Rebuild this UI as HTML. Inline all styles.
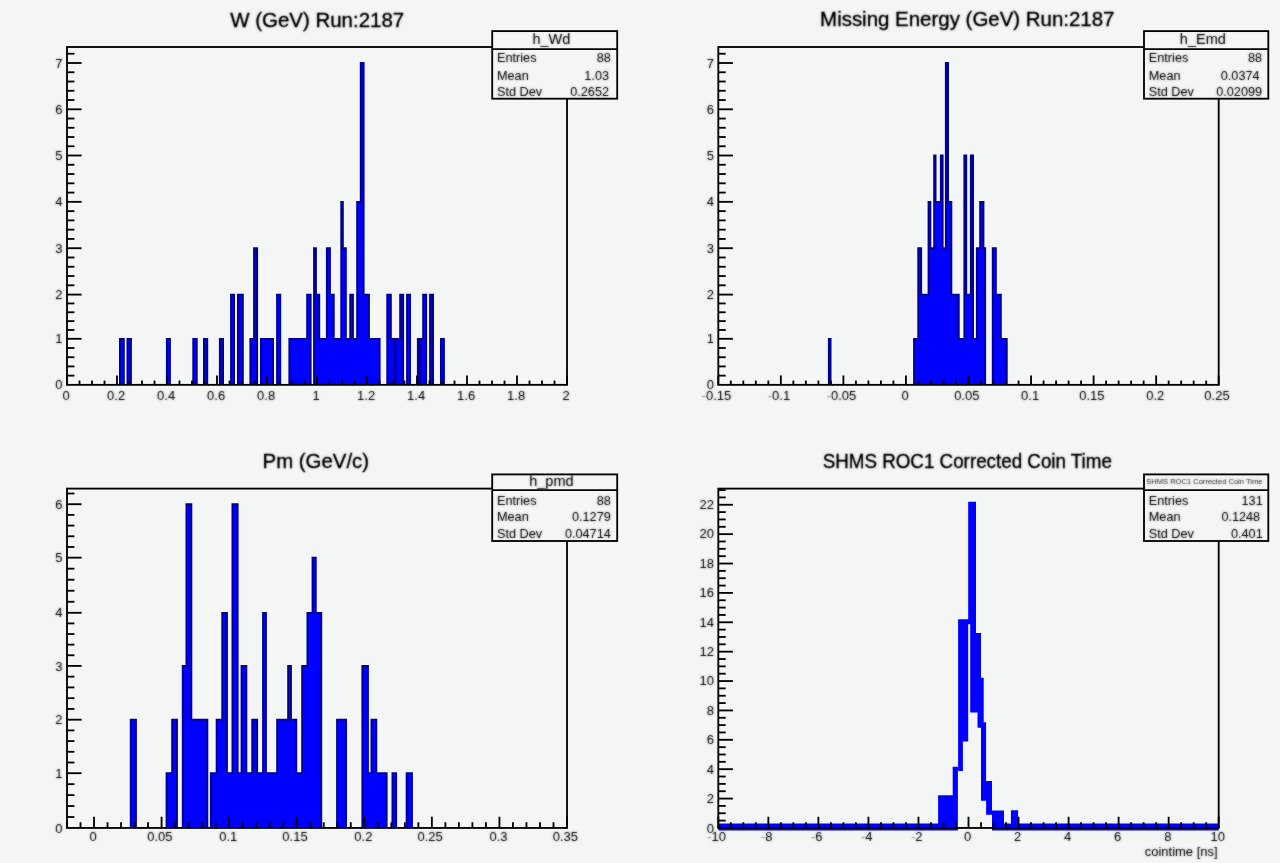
<!DOCTYPE html>
<html lang="en">
<head>
<meta charset="utf-8">
<title>ROOT canvas</title>
<style>
html,body{margin:0;padding:0;background:#f4f6f6;}
body{width:1280px;height:863px;overflow:hidden;}
svg{display:block;font-family:"Liberation Sans", Arial, Helvetica, sans-serif;}
</style>
</head>
<body>
<svg width="1280" height="863" viewBox="0 0 1280 863">
<rect x="0" y="0" width="1280" height="863" fill="#f4f6f6"/>
<defs><filter id="tb" x="0" y="0" width="1280" height="863" filterUnits="userSpaceOnUse"><feGaussianBlur stdDeviation="0.8" result="b"/><feComposite in="SourceGraphic" in2="b" operator="arithmetic" k1="0" k2="0.5" k3="0.6" k4="0"/></filter>
</defs>
<g>
<g id="p1">
<path d="M119 337.88H124.8V384.85H119ZM126.5 337.88H131.9V384.85H126.5ZM165.9 337.88H170.9V384.85H165.9ZM192.3 337.88H197.7V384.85H192.3ZM203 337.88H208.2V384.85H203ZM218.9 337.88H224V384.85H218.9ZM230.1 293.68H235V384.85H230.1ZM237 293.68H243.8V384.85H237ZM249.4 337.88H253.1V384.85H249.4ZM253.1 247.28H258.1V384.85H253.1ZM260 337.88H274V384.85H260ZM276.1 293.68H281.2V384.85H276.1ZM288.4 337.88H306.2V384.85H288.4ZM306.2 293.68H311.6V384.85H306.2ZM313.1 247.28H316.9V384.85H313.1ZM316.9 293.68H320.2V384.85H316.9ZM320.2 337.88H325.9V384.85H320.2ZM325.9 247.28H330.9V384.85H325.9ZM330.9 293.68H334.7V384.85H330.9ZM334.7 337.88H340.3V384.85H334.7ZM340.3 200.93H343.8V384.85H340.3ZM343.8 247.28H346.8V384.85H343.8ZM346.8 337.88H349.3V384.85H346.8ZM349.3 293.68H353.9V384.85H349.3ZM353.9 337.88H356.2V384.85H353.9ZM356.2 200.93H359.8V384.85H356.2ZM359.8 62.08H364.6V384.85H359.8ZM364.6 293.68H369.9V384.85H364.6ZM369.9 337.88H380.6V384.85H369.9ZM386.3 293.68H391.8V384.85H386.3ZM391.8 337.88H399.2V384.85H391.8ZM399.2 293.68H404.1V384.85H399.2ZM406.1 293.68H411V384.85H406.1ZM416.9 337.88H422.2V384.85H416.9ZM422.2 293.68H427.1V384.85H422.2ZM429.1 293.68H434V384.85H429.1ZM440 337.88H444.9V384.85H440Z" fill="#00008c"/>
<path d="M120.84 339.72H122.96V384.85H120.84ZM128.34 339.72H130.06V384.85H128.34ZM167.74 339.72H169.06V384.85H167.74ZM194.14 339.72H195.86V384.85H194.14ZM204.84 339.72H206.36V384.85H204.84ZM220.74 339.72H222.16V384.85H220.74ZM231.94 295.52H233.16V384.85H231.94ZM238.84 295.52H241.96V384.85H238.84ZM251.24 339.72H253.1V384.85H251.24ZM254.94 249.12H256.26V384.85H254.94ZM253.1 339.72H254.94V384.85H253.1ZM261.84 339.72H272.16V384.85H261.84ZM277.94 295.52H279.36V384.85H277.94ZM290.24 339.72H306.2V384.85H290.24ZM308.04 295.52H309.76V384.85H308.04ZM306.2 339.72H308.04V384.85H306.2ZM314.94 249.12H315.06V384.85H314.94ZM315.06 295.52H316.9V384.85H315.06ZM316.9 295.52H318.36V384.85H316.9ZM318.36 339.72H320.2V384.85H318.36ZM320.2 339.72H325.9V384.85H320.2ZM327.74 249.12H329.06V384.85H327.74ZM325.9 339.72H327.74V384.85H325.9ZM329.06 295.52H330.9V384.85H329.06ZM330.9 295.52H332.86V384.85H330.9ZM332.86 339.72H334.7V384.85H332.86ZM334.7 339.72H340.3V384.85H334.7ZM340.3 339.72H342.14V384.85H340.3ZM341.96 249.12H343.8V384.85H341.96ZM343.8 249.12H344.96V384.85H343.8ZM344.96 339.72H346.8V384.85H344.96ZM346.8 339.72H349.3V384.85H346.8ZM351.14 295.52H352.06V384.85H351.14ZM349.3 339.72H351.14V384.85H349.3ZM352.06 339.72H353.9V384.85H352.06ZM353.9 339.72H356.2V384.85H353.9ZM358.04 202.77H359.8V384.85H358.04ZM356.2 339.72H358.04V384.85H356.2ZM361.64 63.92H362.76V384.85H361.64ZM359.8 202.77H361.64V384.85H359.8ZM362.76 295.52H364.6V384.85H362.76ZM364.6 295.52H368.06V384.85H364.6ZM368.06 339.72H369.9V384.85H368.06ZM369.9 339.72H378.76V384.85H369.9ZM388.14 295.52H389.96V384.85H388.14ZM389.96 339.72H391.8V384.85H389.96ZM391.8 339.72H399.2V384.85H391.8ZM401.04 295.52H402.26V384.85H401.04ZM399.2 339.72H401.04V384.85H399.2ZM407.94 295.52H409.16V384.85H407.94ZM418.74 339.72H422.2V384.85H418.74ZM424.04 295.52H425.26V384.85H424.04ZM422.2 339.72H424.04V384.85H422.2ZM430.94 295.52H432.16V384.85H430.94ZM441.84 339.72H443.06V384.85H441.84Z" fill="#0000ff"/>
<rect x="393.6" y="338.8" width="2.8" height="46" fill="#00008c"/>
<rect x="418.3" y="338.8" width="2.6" height="46" fill="#00008c"/>
<rect x="67" y="47" width="500" height="337.85" fill="none" stroke="#000" stroke-width="1.84"/>
<line x1="67" y1="384.85" x2="67" y2="375.45" stroke="#000" stroke-width="1.84"/>
<line x1="79.5" y1="384.85" x2="79.5" y2="380.55" stroke="#000" stroke-width="1.84"/>
<line x1="92" y1="384.85" x2="92" y2="380.55" stroke="#000" stroke-width="1.84"/>
<line x1="104.5" y1="384.85" x2="104.5" y2="380.55" stroke="#000" stroke-width="1.84"/>
<line x1="117" y1="384.85" x2="117" y2="375.45" stroke="#000" stroke-width="1.84"/>
<line x1="129.5" y1="384.85" x2="129.5" y2="380.55" stroke="#000" stroke-width="1.84"/>
<line x1="142" y1="384.85" x2="142" y2="380.55" stroke="#000" stroke-width="1.84"/>
<line x1="154.5" y1="384.85" x2="154.5" y2="380.55" stroke="#000" stroke-width="1.84"/>
<line x1="167" y1="384.85" x2="167" y2="375.45" stroke="#000" stroke-width="1.84"/>
<line x1="179.5" y1="384.85" x2="179.5" y2="380.55" stroke="#000" stroke-width="1.84"/>
<line x1="192" y1="384.85" x2="192" y2="380.55" stroke="#000" stroke-width="1.84"/>
<line x1="204.5" y1="384.85" x2="204.5" y2="380.55" stroke="#000" stroke-width="1.84"/>
<line x1="217" y1="384.85" x2="217" y2="375.45" stroke="#000" stroke-width="1.84"/>
<line x1="229.5" y1="384.85" x2="229.5" y2="380.55" stroke="#000" stroke-width="1.84"/>
<line x1="242" y1="384.85" x2="242" y2="380.55" stroke="#000" stroke-width="1.84"/>
<line x1="254.5" y1="384.85" x2="254.5" y2="380.55" stroke="#000" stroke-width="1.84"/>
<line x1="267" y1="384.85" x2="267" y2="375.45" stroke="#000" stroke-width="1.84"/>
<line x1="279.5" y1="384.85" x2="279.5" y2="380.55" stroke="#000" stroke-width="1.84"/>
<line x1="292" y1="384.85" x2="292" y2="380.55" stroke="#000" stroke-width="1.84"/>
<line x1="304.5" y1="384.85" x2="304.5" y2="380.55" stroke="#000" stroke-width="1.84"/>
<line x1="317" y1="384.85" x2="317" y2="375.45" stroke="#000" stroke-width="1.84"/>
<line x1="329.5" y1="384.85" x2="329.5" y2="380.55" stroke="#000" stroke-width="1.84"/>
<line x1="342" y1="384.85" x2="342" y2="380.55" stroke="#000" stroke-width="1.84"/>
<line x1="354.5" y1="384.85" x2="354.5" y2="380.55" stroke="#000" stroke-width="1.84"/>
<line x1="367" y1="384.85" x2="367" y2="375.45" stroke="#000" stroke-width="1.84"/>
<line x1="379.5" y1="384.85" x2="379.5" y2="380.55" stroke="#000" stroke-width="1.84"/>
<line x1="392" y1="384.85" x2="392" y2="380.55" stroke="#000" stroke-width="1.84"/>
<line x1="404.5" y1="384.85" x2="404.5" y2="380.55" stroke="#000" stroke-width="1.84"/>
<line x1="417" y1="384.85" x2="417" y2="375.45" stroke="#000" stroke-width="1.84"/>
<line x1="429.5" y1="384.85" x2="429.5" y2="380.55" stroke="#000" stroke-width="1.84"/>
<line x1="442" y1="384.85" x2="442" y2="380.55" stroke="#000" stroke-width="1.84"/>
<line x1="454.5" y1="384.85" x2="454.5" y2="380.55" stroke="#000" stroke-width="1.84"/>
<line x1="467" y1="384.85" x2="467" y2="375.45" stroke="#000" stroke-width="1.84"/>
<line x1="479.5" y1="384.85" x2="479.5" y2="380.55" stroke="#000" stroke-width="1.84"/>
<line x1="492" y1="384.85" x2="492" y2="380.55" stroke="#000" stroke-width="1.84"/>
<line x1="504.5" y1="384.85" x2="504.5" y2="380.55" stroke="#000" stroke-width="1.84"/>
<line x1="517" y1="384.85" x2="517" y2="375.45" stroke="#000" stroke-width="1.84"/>
<line x1="529.5" y1="384.85" x2="529.5" y2="380.55" stroke="#000" stroke-width="1.84"/>
<line x1="542" y1="384.85" x2="542" y2="380.55" stroke="#000" stroke-width="1.84"/>
<line x1="554.5" y1="384.85" x2="554.5" y2="380.55" stroke="#000" stroke-width="1.84"/>
<line x1="567" y1="384.85" x2="567" y2="375.45" stroke="#000" stroke-width="1.84"/>
<line x1="67" y1="375.64" x2="74.4" y2="375.64" stroke="#000" stroke-width="1.84"/>
<line x1="67" y1="366.43" x2="74.4" y2="366.43" stroke="#000" stroke-width="1.84"/>
<line x1="67" y1="357.22" x2="74.4" y2="357.22" stroke="#000" stroke-width="1.84"/>
<line x1="67" y1="348.01" x2="74.4" y2="348.01" stroke="#000" stroke-width="1.84"/>
<line x1="67" y1="338.8" x2="81.6" y2="338.8" stroke="#000" stroke-width="1.84"/>
<line x1="67" y1="329.96" x2="74.4" y2="329.96" stroke="#000" stroke-width="1.84"/>
<line x1="67" y1="321.12" x2="74.4" y2="321.12" stroke="#000" stroke-width="1.84"/>
<line x1="67" y1="312.28" x2="74.4" y2="312.28" stroke="#000" stroke-width="1.84"/>
<line x1="67" y1="303.44" x2="74.4" y2="303.44" stroke="#000" stroke-width="1.84"/>
<line x1="67" y1="294.6" x2="81.6" y2="294.6" stroke="#000" stroke-width="1.84"/>
<line x1="67" y1="285.32" x2="74.4" y2="285.32" stroke="#000" stroke-width="1.84"/>
<line x1="67" y1="276.04" x2="74.4" y2="276.04" stroke="#000" stroke-width="1.84"/>
<line x1="67" y1="266.76" x2="74.4" y2="266.76" stroke="#000" stroke-width="1.84"/>
<line x1="67" y1="257.48" x2="74.4" y2="257.48" stroke="#000" stroke-width="1.84"/>
<line x1="67" y1="248.2" x2="81.6" y2="248.2" stroke="#000" stroke-width="1.84"/>
<line x1="67" y1="238.93" x2="74.4" y2="238.93" stroke="#000" stroke-width="1.84"/>
<line x1="67" y1="229.66" x2="74.4" y2="229.66" stroke="#000" stroke-width="1.84"/>
<line x1="67" y1="220.39" x2="74.4" y2="220.39" stroke="#000" stroke-width="1.84"/>
<line x1="67" y1="211.12" x2="74.4" y2="211.12" stroke="#000" stroke-width="1.84"/>
<line x1="67" y1="201.85" x2="81.6" y2="201.85" stroke="#000" stroke-width="1.84"/>
<line x1="67" y1="192.58" x2="74.4" y2="192.58" stroke="#000" stroke-width="1.84"/>
<line x1="67" y1="183.31" x2="74.4" y2="183.31" stroke="#000" stroke-width="1.84"/>
<line x1="67" y1="174.04" x2="74.4" y2="174.04" stroke="#000" stroke-width="1.84"/>
<line x1="67" y1="164.77" x2="74.4" y2="164.77" stroke="#000" stroke-width="1.84"/>
<line x1="67" y1="155.5" x2="81.6" y2="155.5" stroke="#000" stroke-width="1.84"/>
<line x1="67" y1="146.26" x2="74.4" y2="146.26" stroke="#000" stroke-width="1.84"/>
<line x1="67" y1="137.02" x2="74.4" y2="137.02" stroke="#000" stroke-width="1.84"/>
<line x1="67" y1="127.78" x2="74.4" y2="127.78" stroke="#000" stroke-width="1.84"/>
<line x1="67" y1="118.54" x2="74.4" y2="118.54" stroke="#000" stroke-width="1.84"/>
<line x1="67" y1="109.3" x2="81.6" y2="109.3" stroke="#000" stroke-width="1.84"/>
<line x1="67" y1="100.04" x2="74.4" y2="100.04" stroke="#000" stroke-width="1.84"/>
<line x1="67" y1="90.78" x2="74.4" y2="90.78" stroke="#000" stroke-width="1.84"/>
<line x1="67" y1="81.52" x2="74.4" y2="81.52" stroke="#000" stroke-width="1.84"/>
<line x1="67" y1="72.26" x2="74.4" y2="72.26" stroke="#000" stroke-width="1.84"/>
<line x1="67" y1="63" x2="81.6" y2="63" stroke="#000" stroke-width="1.84"/>
<line x1="67" y1="53.74" x2="74.4" y2="53.74" stroke="#000" stroke-width="1.84"/>
<rect x="492.2" y="31.1" width="125" height="67.6" fill="#f4f6f6" stroke="#000" stroke-width="1.84"/>
<line x1="492.2" y1="49.2" x2="617.2" y2="49.2" stroke="#000" stroke-width="1.84"/>
</g>
<g id="p2">
<path d="M827.9 337.88H831.5V384.85H827.9ZM913.1 337.88H917.3V384.85H913.1ZM917.3 247.28H922.1V384.85H917.3ZM922.1 293.68H927.6V384.85H922.1ZM927.6 200.93H931.3V384.85H927.6ZM931.3 247.28H933.2V384.85H931.3ZM933.2 154.58H936.5V384.85H933.2ZM936.5 200.93H939.9V384.85H936.5ZM939.9 154.58H943.6V384.85H939.9ZM943.6 247.28H944.9V384.85H943.6ZM944.9 62.08H949V384.85H944.9ZM949 200.93H952.3V384.85H949ZM952.3 293.68H959.7V384.85H952.3ZM959.7 337.88H963.4V384.85H959.7ZM963.4 154.58H967.2V384.85H963.4ZM967.2 293.68H969.9V384.85H967.2ZM969.9 154.58H974V384.85H969.9ZM974 337.88H975.9V384.85H974ZM975.9 247.28H979.2V384.85H975.9ZM979.2 200.93H984.4V384.85H979.2ZM984.4 247.28H986.1V384.85H984.4ZM991.8 247.28H996.8V384.85H991.8ZM996.8 293.68H1001.8V384.85H996.8ZM1001.8 337.88H1007.7V384.85H1001.8Z" fill="#00008c"/>
<path d="M914.94 339.72H917.3V384.85H914.94ZM919.14 249.12H920.26V384.85H919.14ZM917.3 339.72H919.14V384.85H917.3ZM920.26 295.52H922.1V384.85H920.26ZM922.1 295.52H927.6V384.85H922.1ZM929.44 202.77H929.46V384.85H929.44ZM927.6 295.52H929.44V384.85H927.6ZM929.46 249.12H931.3V384.85H929.46ZM931.3 249.12H933.2V384.85H931.3ZM933.2 249.12H935.04V384.85H933.2ZM934.66 202.77H936.5V384.85H934.66ZM936.5 202.77H939.9V384.85H936.5ZM941.74 156.42H941.76V384.85H941.74ZM939.9 202.77H941.74V384.85H939.9ZM941.76 249.12H943.6V384.85H941.76ZM943.6 249.12H944.9V384.85H943.6ZM946.74 63.92H947.16V384.85H946.74ZM944.9 249.12H946.74V384.85H944.9ZM947.16 202.77H949V384.85H947.16ZM949 202.77H950.46V384.85H949ZM950.46 295.52H952.3V384.85H950.46ZM952.3 295.52H957.86V384.85H952.3ZM957.86 339.72H959.7V384.85H957.86ZM959.7 339.72H963.4V384.85H959.7ZM965.24 156.42H965.36V384.85H965.24ZM963.4 339.72H965.24V384.85H963.4ZM965.36 295.52H967.2V384.85H965.36ZM967.2 295.52H969.9V384.85H967.2ZM971.74 156.42H972.16V384.85H971.74ZM969.9 295.52H971.74V384.85H969.9ZM972.16 339.72H974V384.85H972.16ZM974 339.72H975.9V384.85H974ZM977.74 249.12H979.2V384.85H977.74ZM975.9 339.72H977.74V384.85H975.9ZM981.04 202.77H982.56V384.85H981.04ZM979.2 249.12H981.04V384.85H979.2ZM982.56 249.12H984.4V384.85H982.56ZM993.64 249.12H994.96V384.85H993.64ZM994.96 295.52H996.8V384.85H994.96ZM996.8 295.52H999.96V384.85H996.8ZM999.96 339.72H1001.8V384.85H999.96ZM1001.8 339.72H1005.86V384.85H1001.8Z" fill="#0000ff"/>
<rect x="718.3" y="47" width="500.4" height="337.85" fill="none" stroke="#000" stroke-width="1.84"/>
<line x1="718.3" y1="384.85" x2="718.3" y2="375.45" stroke="#000" stroke-width="1.84"/>
<line x1="730.81" y1="384.85" x2="730.81" y2="380.55" stroke="#000" stroke-width="1.84"/>
<line x1="743.32" y1="384.85" x2="743.32" y2="380.55" stroke="#000" stroke-width="1.84"/>
<line x1="755.83" y1="384.85" x2="755.83" y2="380.55" stroke="#000" stroke-width="1.84"/>
<line x1="768.34" y1="384.85" x2="768.34" y2="380.55" stroke="#000" stroke-width="1.84"/>
<line x1="780.85" y1="384.85" x2="780.85" y2="375.45" stroke="#000" stroke-width="1.84"/>
<line x1="793.36" y1="384.85" x2="793.36" y2="380.55" stroke="#000" stroke-width="1.84"/>
<line x1="805.87" y1="384.85" x2="805.87" y2="380.55" stroke="#000" stroke-width="1.84"/>
<line x1="818.38" y1="384.85" x2="818.38" y2="380.55" stroke="#000" stroke-width="1.84"/>
<line x1="830.89" y1="384.85" x2="830.89" y2="380.55" stroke="#000" stroke-width="1.84"/>
<line x1="843.4" y1="384.85" x2="843.4" y2="375.45" stroke="#000" stroke-width="1.84"/>
<line x1="855.91" y1="384.85" x2="855.91" y2="380.55" stroke="#000" stroke-width="1.84"/>
<line x1="868.42" y1="384.85" x2="868.42" y2="380.55" stroke="#000" stroke-width="1.84"/>
<line x1="880.93" y1="384.85" x2="880.93" y2="380.55" stroke="#000" stroke-width="1.84"/>
<line x1="893.44" y1="384.85" x2="893.44" y2="380.55" stroke="#000" stroke-width="1.84"/>
<line x1="905.95" y1="384.85" x2="905.95" y2="375.45" stroke="#000" stroke-width="1.84"/>
<line x1="918.46" y1="384.85" x2="918.46" y2="380.55" stroke="#000" stroke-width="1.84"/>
<line x1="930.97" y1="384.85" x2="930.97" y2="380.55" stroke="#000" stroke-width="1.84"/>
<line x1="943.48" y1="384.85" x2="943.48" y2="380.55" stroke="#000" stroke-width="1.84"/>
<line x1="955.99" y1="384.85" x2="955.99" y2="380.55" stroke="#000" stroke-width="1.84"/>
<line x1="968.5" y1="384.85" x2="968.5" y2="375.45" stroke="#000" stroke-width="1.84"/>
<line x1="981.01" y1="384.85" x2="981.01" y2="380.55" stroke="#000" stroke-width="1.84"/>
<line x1="993.52" y1="384.85" x2="993.52" y2="380.55" stroke="#000" stroke-width="1.84"/>
<line x1="1006.03" y1="384.85" x2="1006.03" y2="380.55" stroke="#000" stroke-width="1.84"/>
<line x1="1018.54" y1="384.85" x2="1018.54" y2="380.55" stroke="#000" stroke-width="1.84"/>
<line x1="1031.05" y1="384.85" x2="1031.05" y2="375.45" stroke="#000" stroke-width="1.84"/>
<line x1="1043.56" y1="384.85" x2="1043.56" y2="380.55" stroke="#000" stroke-width="1.84"/>
<line x1="1056.07" y1="384.85" x2="1056.07" y2="380.55" stroke="#000" stroke-width="1.84"/>
<line x1="1068.58" y1="384.85" x2="1068.58" y2="380.55" stroke="#000" stroke-width="1.84"/>
<line x1="1081.09" y1="384.85" x2="1081.09" y2="380.55" stroke="#000" stroke-width="1.84"/>
<line x1="1093.6" y1="384.85" x2="1093.6" y2="375.45" stroke="#000" stroke-width="1.84"/>
<line x1="1106.11" y1="384.85" x2="1106.11" y2="380.55" stroke="#000" stroke-width="1.84"/>
<line x1="1118.62" y1="384.85" x2="1118.62" y2="380.55" stroke="#000" stroke-width="1.84"/>
<line x1="1131.13" y1="384.85" x2="1131.13" y2="380.55" stroke="#000" stroke-width="1.84"/>
<line x1="1143.64" y1="384.85" x2="1143.64" y2="380.55" stroke="#000" stroke-width="1.84"/>
<line x1="1156.15" y1="384.85" x2="1156.15" y2="375.45" stroke="#000" stroke-width="1.84"/>
<line x1="1168.66" y1="384.85" x2="1168.66" y2="380.55" stroke="#000" stroke-width="1.84"/>
<line x1="1181.17" y1="384.85" x2="1181.17" y2="380.55" stroke="#000" stroke-width="1.84"/>
<line x1="1193.68" y1="384.85" x2="1193.68" y2="380.55" stroke="#000" stroke-width="1.84"/>
<line x1="1206.19" y1="384.85" x2="1206.19" y2="380.55" stroke="#000" stroke-width="1.84"/>
<line x1="1218.7" y1="384.85" x2="1218.7" y2="375.45" stroke="#000" stroke-width="1.84"/>
<line x1="718.3" y1="375.64" x2="725.7" y2="375.64" stroke="#000" stroke-width="1.84"/>
<line x1="718.3" y1="366.43" x2="725.7" y2="366.43" stroke="#000" stroke-width="1.84"/>
<line x1="718.3" y1="357.22" x2="725.7" y2="357.22" stroke="#000" stroke-width="1.84"/>
<line x1="718.3" y1="348.01" x2="725.7" y2="348.01" stroke="#000" stroke-width="1.84"/>
<line x1="718.3" y1="338.8" x2="732.9" y2="338.8" stroke="#000" stroke-width="1.84"/>
<line x1="718.3" y1="329.96" x2="725.7" y2="329.96" stroke="#000" stroke-width="1.84"/>
<line x1="718.3" y1="321.12" x2="725.7" y2="321.12" stroke="#000" stroke-width="1.84"/>
<line x1="718.3" y1="312.28" x2="725.7" y2="312.28" stroke="#000" stroke-width="1.84"/>
<line x1="718.3" y1="303.44" x2="725.7" y2="303.44" stroke="#000" stroke-width="1.84"/>
<line x1="718.3" y1="294.6" x2="732.9" y2="294.6" stroke="#000" stroke-width="1.84"/>
<line x1="718.3" y1="285.32" x2="725.7" y2="285.32" stroke="#000" stroke-width="1.84"/>
<line x1="718.3" y1="276.04" x2="725.7" y2="276.04" stroke="#000" stroke-width="1.84"/>
<line x1="718.3" y1="266.76" x2="725.7" y2="266.76" stroke="#000" stroke-width="1.84"/>
<line x1="718.3" y1="257.48" x2="725.7" y2="257.48" stroke="#000" stroke-width="1.84"/>
<line x1="718.3" y1="248.2" x2="732.9" y2="248.2" stroke="#000" stroke-width="1.84"/>
<line x1="718.3" y1="238.93" x2="725.7" y2="238.93" stroke="#000" stroke-width="1.84"/>
<line x1="718.3" y1="229.66" x2="725.7" y2="229.66" stroke="#000" stroke-width="1.84"/>
<line x1="718.3" y1="220.39" x2="725.7" y2="220.39" stroke="#000" stroke-width="1.84"/>
<line x1="718.3" y1="211.12" x2="725.7" y2="211.12" stroke="#000" stroke-width="1.84"/>
<line x1="718.3" y1="201.85" x2="732.9" y2="201.85" stroke="#000" stroke-width="1.84"/>
<line x1="718.3" y1="192.58" x2="725.7" y2="192.58" stroke="#000" stroke-width="1.84"/>
<line x1="718.3" y1="183.31" x2="725.7" y2="183.31" stroke="#000" stroke-width="1.84"/>
<line x1="718.3" y1="174.04" x2="725.7" y2="174.04" stroke="#000" stroke-width="1.84"/>
<line x1="718.3" y1="164.77" x2="725.7" y2="164.77" stroke="#000" stroke-width="1.84"/>
<line x1="718.3" y1="155.5" x2="732.9" y2="155.5" stroke="#000" stroke-width="1.84"/>
<line x1="718.3" y1="146.26" x2="725.7" y2="146.26" stroke="#000" stroke-width="1.84"/>
<line x1="718.3" y1="137.02" x2="725.7" y2="137.02" stroke="#000" stroke-width="1.84"/>
<line x1="718.3" y1="127.78" x2="725.7" y2="127.78" stroke="#000" stroke-width="1.84"/>
<line x1="718.3" y1="118.54" x2="725.7" y2="118.54" stroke="#000" stroke-width="1.84"/>
<line x1="718.3" y1="109.3" x2="732.9" y2="109.3" stroke="#000" stroke-width="1.84"/>
<line x1="718.3" y1="100.04" x2="725.7" y2="100.04" stroke="#000" stroke-width="1.84"/>
<line x1="718.3" y1="90.78" x2="725.7" y2="90.78" stroke="#000" stroke-width="1.84"/>
<line x1="718.3" y1="81.52" x2="725.7" y2="81.52" stroke="#000" stroke-width="1.84"/>
<line x1="718.3" y1="72.26" x2="725.7" y2="72.26" stroke="#000" stroke-width="1.84"/>
<line x1="718.3" y1="63" x2="732.9" y2="63" stroke="#000" stroke-width="1.84"/>
<line x1="718.3" y1="53.74" x2="725.7" y2="53.74" stroke="#000" stroke-width="1.84"/>
<rect x="1144" y="31.1" width="124.3" height="67.6" fill="#f4f6f6" stroke="#000" stroke-width="1.84"/>
<line x1="1144" y1="49.2" x2="1268.3" y2="49.2" stroke="#000" stroke-width="1.84"/>
</g>
<g id="p3">
<path d="M129.8 718.78H136.9V827.95H129.8ZM165.6 772.28H171.2V827.95H165.6ZM171.2 718.78H177.9V827.95H171.2ZM181.8 664.98H185.5V827.95H181.8ZM185.5 503.28H192.3V827.95H185.5ZM192.3 718.78H208.3V827.95H192.3ZM209.9 772.28H215.7V827.95H209.9ZM215.7 718.78H221.3V827.95H215.7ZM221.3 611.88H227.9V827.95H221.3ZM227.9 772.28H231.5V827.95H227.9ZM231.5 503.28H238.6V827.95H231.5ZM238.6 772.28H240.6V827.95H238.6ZM240.6 664.98H247.3V827.95H240.6ZM247.3 772.28H251.3V827.95H247.3ZM251.3 718.78H258.1V827.95H251.3ZM258.1 772.28H262.1V827.95H258.1ZM262.1 611.88H266.9V827.95H262.1ZM266.9 772.28H276.2V827.95H266.9ZM276.2 718.78H287.2V827.95H276.2ZM287.2 664.98H291.9V827.95H287.2ZM291.9 718.78H297.2V827.95H291.9ZM297.2 772.28H301.2V827.95H297.2ZM301.2 664.98H306.5V827.95H301.2ZM306.5 611.88H311.6V827.95H306.5ZM311.6 556.73H316.7V827.95H311.6ZM316.7 611.88H322.2V827.95H316.7ZM336.1 718.78H347V827.95H336.1ZM361.4 664.98H368.9V827.95H361.4ZM368.9 772.28H370.5V827.95H368.9ZM370.5 718.78H377.25V827.95H370.5ZM377.25 772.28H387.6V827.95H377.25ZM391.5 772.28H397.1V827.95H391.5ZM405.7 772.28H412.9V827.95H405.7Z" fill="#00008c"/>
<path d="M131.64 720.62H135.06V827.95H131.64ZM167.44 774.12H171.2V827.95H167.44ZM173.04 720.62H176.06V827.95H173.04ZM171.2 774.12H173.04V827.95H171.2ZM183.64 666.82H185.5V827.95H183.64ZM187.34 505.12H190.46V827.95H187.34ZM185.5 666.82H187.34V827.95H185.5ZM190.46 720.62H192.3V827.95H190.46ZM192.3 720.62H206.46V827.95H192.3ZM211.74 774.12H215.7V827.95H211.74ZM217.54 720.62H221.3V827.95H217.54ZM215.7 774.12H217.54V827.95H215.7ZM223.14 613.72H226.06V827.95H223.14ZM221.3 720.62H223.14V827.95H221.3ZM226.06 774.12H227.9V827.95H226.06ZM227.9 774.12H231.5V827.95H227.9ZM233.34 505.12H236.76V827.95H233.34ZM231.5 774.12H233.34V827.95H231.5ZM236.76 774.12H238.6V827.95H236.76ZM238.6 774.12H240.6V827.95H238.6ZM242.44 666.82H245.46V827.95H242.44ZM240.6 774.12H242.44V827.95H240.6ZM245.46 774.12H247.3V827.95H245.46ZM247.3 774.12H251.3V827.95H247.3ZM253.14 720.62H256.26V827.95H253.14ZM251.3 774.12H253.14V827.95H251.3ZM256.26 774.12H258.1V827.95H256.26ZM258.1 774.12H262.1V827.95H258.1ZM263.94 613.72H265.06V827.95H263.94ZM262.1 774.12H263.94V827.95H262.1ZM265.06 774.12H266.9V827.95H265.06ZM266.9 774.12H276.2V827.95H266.9ZM278.04 720.62H287.2V827.95H278.04ZM276.2 774.12H278.04V827.95H276.2ZM289.04 666.82H290.06V827.95H289.04ZM287.2 720.62H289.04V827.95H287.2ZM290.06 720.62H291.9V827.95H290.06ZM291.9 720.62H295.36V827.95H291.9ZM295.36 774.12H297.2V827.95H295.36ZM297.2 774.12H301.2V827.95H297.2ZM303.04 666.82H306.5V827.95H303.04ZM301.2 774.12H303.04V827.95H301.2ZM308.34 613.72H311.6V827.95H308.34ZM306.5 666.82H308.34V827.95H306.5ZM313.44 558.57H314.86V827.95H313.44ZM311.6 613.72H313.44V827.95H311.6ZM314.86 613.72H316.7V827.95H314.86ZM316.7 613.72H320.36V827.95H316.7ZM337.94 720.62H345.16V827.95H337.94ZM363.24 666.82H367.06V827.95H363.24ZM367.06 774.12H368.9V827.95H367.06ZM368.9 774.12H370.5V827.95H368.9ZM372.34 720.62H375.41V827.95H372.34ZM370.5 774.12H372.34V827.95H370.5ZM375.41 774.12H377.25V827.95H375.41ZM377.25 774.12H385.76V827.95H377.25ZM393.34 774.12H395.26V827.95H393.34ZM407.54 774.12H411.06V827.95H407.54Z" fill="#0000ff"/>
<rect x="67" y="488.6" width="500" height="339.35" fill="none" stroke="#000" stroke-width="1.84"/>
<line x1="67" y1="827.95" x2="67" y2="822.25" stroke="#000" stroke-width="1.84"/>
<line x1="80.51" y1="827.95" x2="80.51" y2="822.25" stroke="#000" stroke-width="1.84"/>
<line x1="94.03" y1="827.95" x2="94.03" y2="816.75" stroke="#000" stroke-width="1.84"/>
<line x1="107.54" y1="827.95" x2="107.54" y2="822.25" stroke="#000" stroke-width="1.84"/>
<line x1="121.05" y1="827.95" x2="121.05" y2="822.25" stroke="#000" stroke-width="1.84"/>
<line x1="134.57" y1="827.95" x2="134.57" y2="822.25" stroke="#000" stroke-width="1.84"/>
<line x1="148.08" y1="827.95" x2="148.08" y2="822.25" stroke="#000" stroke-width="1.84"/>
<line x1="161.59" y1="827.95" x2="161.59" y2="816.75" stroke="#000" stroke-width="1.84"/>
<line x1="175.11" y1="827.95" x2="175.11" y2="822.25" stroke="#000" stroke-width="1.84"/>
<line x1="188.62" y1="827.95" x2="188.62" y2="822.25" stroke="#000" stroke-width="1.84"/>
<line x1="202.14" y1="827.95" x2="202.14" y2="822.25" stroke="#000" stroke-width="1.84"/>
<line x1="215.65" y1="827.95" x2="215.65" y2="822.25" stroke="#000" stroke-width="1.84"/>
<line x1="229.16" y1="827.95" x2="229.16" y2="816.75" stroke="#000" stroke-width="1.84"/>
<line x1="242.68" y1="827.95" x2="242.68" y2="822.25" stroke="#000" stroke-width="1.84"/>
<line x1="256.19" y1="827.95" x2="256.19" y2="822.25" stroke="#000" stroke-width="1.84"/>
<line x1="269.7" y1="827.95" x2="269.7" y2="822.25" stroke="#000" stroke-width="1.84"/>
<line x1="283.22" y1="827.95" x2="283.22" y2="822.25" stroke="#000" stroke-width="1.84"/>
<line x1="296.73" y1="827.95" x2="296.73" y2="816.75" stroke="#000" stroke-width="1.84"/>
<line x1="310.24" y1="827.95" x2="310.24" y2="822.25" stroke="#000" stroke-width="1.84"/>
<line x1="323.76" y1="827.95" x2="323.76" y2="822.25" stroke="#000" stroke-width="1.84"/>
<line x1="337.27" y1="827.95" x2="337.27" y2="822.25" stroke="#000" stroke-width="1.84"/>
<line x1="350.78" y1="827.95" x2="350.78" y2="822.25" stroke="#000" stroke-width="1.84"/>
<line x1="364.3" y1="827.95" x2="364.3" y2="816.75" stroke="#000" stroke-width="1.84"/>
<line x1="377.81" y1="827.95" x2="377.81" y2="822.25" stroke="#000" stroke-width="1.84"/>
<line x1="391.32" y1="827.95" x2="391.32" y2="822.25" stroke="#000" stroke-width="1.84"/>
<line x1="404.84" y1="827.95" x2="404.84" y2="822.25" stroke="#000" stroke-width="1.84"/>
<line x1="418.35" y1="827.95" x2="418.35" y2="822.25" stroke="#000" stroke-width="1.84"/>
<line x1="431.86" y1="827.95" x2="431.86" y2="816.75" stroke="#000" stroke-width="1.84"/>
<line x1="445.38" y1="827.95" x2="445.38" y2="822.25" stroke="#000" stroke-width="1.84"/>
<line x1="458.89" y1="827.95" x2="458.89" y2="822.25" stroke="#000" stroke-width="1.84"/>
<line x1="472.41" y1="827.95" x2="472.41" y2="822.25" stroke="#000" stroke-width="1.84"/>
<line x1="485.92" y1="827.95" x2="485.92" y2="822.25" stroke="#000" stroke-width="1.84"/>
<line x1="499.43" y1="827.95" x2="499.43" y2="816.75" stroke="#000" stroke-width="1.84"/>
<line x1="512.95" y1="827.95" x2="512.95" y2="822.25" stroke="#000" stroke-width="1.84"/>
<line x1="526.46" y1="827.95" x2="526.46" y2="822.25" stroke="#000" stroke-width="1.84"/>
<line x1="539.97" y1="827.95" x2="539.97" y2="822.25" stroke="#000" stroke-width="1.84"/>
<line x1="553.49" y1="827.95" x2="553.49" y2="822.25" stroke="#000" stroke-width="1.84"/>
<line x1="567" y1="827.95" x2="567" y2="816.75" stroke="#000" stroke-width="1.84"/>
<line x1="67" y1="817" x2="74.4" y2="817" stroke="#000" stroke-width="1.84"/>
<line x1="67" y1="806.05" x2="74.4" y2="806.05" stroke="#000" stroke-width="1.84"/>
<line x1="67" y1="795.1" x2="74.4" y2="795.1" stroke="#000" stroke-width="1.84"/>
<line x1="67" y1="784.15" x2="74.4" y2="784.15" stroke="#000" stroke-width="1.84"/>
<line x1="67" y1="773.2" x2="81.6" y2="773.2" stroke="#000" stroke-width="1.84"/>
<line x1="67" y1="762.5" x2="74.4" y2="762.5" stroke="#000" stroke-width="1.84"/>
<line x1="67" y1="751.8" x2="74.4" y2="751.8" stroke="#000" stroke-width="1.84"/>
<line x1="67" y1="741.1" x2="74.4" y2="741.1" stroke="#000" stroke-width="1.84"/>
<line x1="67" y1="730.4" x2="74.4" y2="730.4" stroke="#000" stroke-width="1.84"/>
<line x1="67" y1="719.7" x2="81.6" y2="719.7" stroke="#000" stroke-width="1.84"/>
<line x1="67" y1="708.94" x2="74.4" y2="708.94" stroke="#000" stroke-width="1.84"/>
<line x1="67" y1="698.18" x2="74.4" y2="698.18" stroke="#000" stroke-width="1.84"/>
<line x1="67" y1="687.42" x2="74.4" y2="687.42" stroke="#000" stroke-width="1.84"/>
<line x1="67" y1="676.66" x2="74.4" y2="676.66" stroke="#000" stroke-width="1.84"/>
<line x1="67" y1="665.9" x2="81.6" y2="665.9" stroke="#000" stroke-width="1.84"/>
<line x1="67" y1="655.28" x2="74.4" y2="655.28" stroke="#000" stroke-width="1.84"/>
<line x1="67" y1="644.66" x2="74.4" y2="644.66" stroke="#000" stroke-width="1.84"/>
<line x1="67" y1="634.04" x2="74.4" y2="634.04" stroke="#000" stroke-width="1.84"/>
<line x1="67" y1="623.42" x2="74.4" y2="623.42" stroke="#000" stroke-width="1.84"/>
<line x1="67" y1="612.8" x2="81.6" y2="612.8" stroke="#000" stroke-width="1.84"/>
<line x1="67" y1="601.77" x2="74.4" y2="601.77" stroke="#000" stroke-width="1.84"/>
<line x1="67" y1="590.74" x2="74.4" y2="590.74" stroke="#000" stroke-width="1.84"/>
<line x1="67" y1="579.71" x2="74.4" y2="579.71" stroke="#000" stroke-width="1.84"/>
<line x1="67" y1="568.68" x2="74.4" y2="568.68" stroke="#000" stroke-width="1.84"/>
<line x1="67" y1="557.65" x2="81.6" y2="557.65" stroke="#000" stroke-width="1.84"/>
<line x1="67" y1="546.96" x2="74.4" y2="546.96" stroke="#000" stroke-width="1.84"/>
<line x1="67" y1="536.27" x2="74.4" y2="536.27" stroke="#000" stroke-width="1.84"/>
<line x1="67" y1="525.58" x2="74.4" y2="525.58" stroke="#000" stroke-width="1.84"/>
<line x1="67" y1="514.89" x2="74.4" y2="514.89" stroke="#000" stroke-width="1.84"/>
<line x1="67" y1="504.2" x2="81.6" y2="504.2" stroke="#000" stroke-width="1.84"/>
<line x1="67" y1="493.51" x2="74.4" y2="493.51" stroke="#000" stroke-width="1.84"/>
<rect x="492.2" y="474.4" width="125" height="66.6" fill="#f4f6f6" stroke="#000" stroke-width="1.84"/>
<line x1="492.2" y1="490.1" x2="617.2" y2="490.1" stroke="#000" stroke-width="1.84"/>
</g>
<g id="p4">
<path d="M718.3 823.6H938.1V830.5H718.3ZM938.1 795.3H957.9V830.5H938.1ZM952.7 766.8H957.9V795.3H952.7ZM958.1 619.3H962.9V771H958.1ZM962.9 619.3H968.2V741.4H962.9ZM958.1 619.3H976V624.2H958.1ZM968.2 501.8H976V624.2H968.2ZM970.2 624.2H976V712.5H970.2ZM976 633.1H981V712.5H976ZM981 677.8H983.7V722.4H981ZM977.5 712.5H983.7V727.8H977.5ZM981 722.3H986.1V800.7H981ZM986.1 780.9H992V814.7H986.1ZM992 810.5H1004V830.5H992ZM1004 823.6H1218.7V830.5H1004ZM1010.9 810.3H1018.1V830.5H1010.9Z" fill="#0000ff"/>
<rect x="718.3" y="488.6" width="500.4" height="339.35" fill="none" stroke="#000" stroke-width="1.84"/>
<line x1="718.3" y1="827.95" x2="718.3" y2="816.75" stroke="#000" stroke-width="1.84"/>
<line x1="730.81" y1="827.95" x2="730.81" y2="822.25" stroke="#000" stroke-width="1.84"/>
<line x1="743.32" y1="827.95" x2="743.32" y2="822.25" stroke="#000" stroke-width="1.84"/>
<line x1="755.83" y1="827.95" x2="755.83" y2="822.25" stroke="#000" stroke-width="1.84"/>
<line x1="768.34" y1="827.95" x2="768.34" y2="816.75" stroke="#000" stroke-width="1.84"/>
<line x1="780.85" y1="827.95" x2="780.85" y2="822.25" stroke="#000" stroke-width="1.84"/>
<line x1="793.36" y1="827.95" x2="793.36" y2="822.25" stroke="#000" stroke-width="1.84"/>
<line x1="805.87" y1="827.95" x2="805.87" y2="822.25" stroke="#000" stroke-width="1.84"/>
<line x1="818.38" y1="827.95" x2="818.38" y2="816.75" stroke="#000" stroke-width="1.84"/>
<line x1="830.89" y1="827.95" x2="830.89" y2="822.25" stroke="#000" stroke-width="1.84"/>
<line x1="843.4" y1="827.95" x2="843.4" y2="822.25" stroke="#000" stroke-width="1.84"/>
<line x1="855.91" y1="827.95" x2="855.91" y2="822.25" stroke="#000" stroke-width="1.84"/>
<line x1="868.42" y1="827.95" x2="868.42" y2="816.75" stroke="#000" stroke-width="1.84"/>
<line x1="880.93" y1="827.95" x2="880.93" y2="822.25" stroke="#000" stroke-width="1.84"/>
<line x1="893.44" y1="827.95" x2="893.44" y2="822.25" stroke="#000" stroke-width="1.84"/>
<line x1="905.95" y1="827.95" x2="905.95" y2="822.25" stroke="#000" stroke-width="1.84"/>
<line x1="918.46" y1="827.95" x2="918.46" y2="816.75" stroke="#000" stroke-width="1.84"/>
<line x1="930.97" y1="827.95" x2="930.97" y2="822.25" stroke="#000" stroke-width="1.84"/>
<line x1="943.48" y1="827.95" x2="943.48" y2="822.25" stroke="#000" stroke-width="1.84"/>
<line x1="955.99" y1="827.95" x2="955.99" y2="822.25" stroke="#000" stroke-width="1.84"/>
<line x1="968.5" y1="827.95" x2="968.5" y2="816.75" stroke="#000" stroke-width="1.84"/>
<line x1="981.01" y1="827.95" x2="981.01" y2="822.25" stroke="#000" stroke-width="1.84"/>
<line x1="993.52" y1="827.95" x2="993.52" y2="822.25" stroke="#000" stroke-width="1.84"/>
<line x1="1006.03" y1="827.95" x2="1006.03" y2="822.25" stroke="#000" stroke-width="1.84"/>
<line x1="1018.54" y1="827.95" x2="1018.54" y2="816.75" stroke="#000" stroke-width="1.84"/>
<line x1="1031.05" y1="827.95" x2="1031.05" y2="822.25" stroke="#000" stroke-width="1.84"/>
<line x1="1043.56" y1="827.95" x2="1043.56" y2="822.25" stroke="#000" stroke-width="1.84"/>
<line x1="1056.07" y1="827.95" x2="1056.07" y2="822.25" stroke="#000" stroke-width="1.84"/>
<line x1="1068.58" y1="827.95" x2="1068.58" y2="816.75" stroke="#000" stroke-width="1.84"/>
<line x1="1081.09" y1="827.95" x2="1081.09" y2="822.25" stroke="#000" stroke-width="1.84"/>
<line x1="1093.6" y1="827.95" x2="1093.6" y2="822.25" stroke="#000" stroke-width="1.84"/>
<line x1="1106.11" y1="827.95" x2="1106.11" y2="822.25" stroke="#000" stroke-width="1.84"/>
<line x1="1118.62" y1="827.95" x2="1118.62" y2="816.75" stroke="#000" stroke-width="1.84"/>
<line x1="1131.13" y1="827.95" x2="1131.13" y2="822.25" stroke="#000" stroke-width="1.84"/>
<line x1="1143.64" y1="827.95" x2="1143.64" y2="822.25" stroke="#000" stroke-width="1.84"/>
<line x1="1156.15" y1="827.95" x2="1156.15" y2="822.25" stroke="#000" stroke-width="1.84"/>
<line x1="1168.66" y1="827.95" x2="1168.66" y2="816.75" stroke="#000" stroke-width="1.84"/>
<line x1="1181.17" y1="827.95" x2="1181.17" y2="822.25" stroke="#000" stroke-width="1.84"/>
<line x1="1193.68" y1="827.95" x2="1193.68" y2="822.25" stroke="#000" stroke-width="1.84"/>
<line x1="1206.19" y1="827.95" x2="1206.19" y2="822.25" stroke="#000" stroke-width="1.84"/>
<line x1="1218.7" y1="827.95" x2="1218.7" y2="816.75" stroke="#000" stroke-width="1.84"/>
<line x1="718.3" y1="820.6" x2="725.7" y2="820.6" stroke="#000" stroke-width="1.84"/>
<line x1="718.3" y1="813.26" x2="725.7" y2="813.26" stroke="#000" stroke-width="1.84"/>
<line x1="718.3" y1="805.91" x2="725.7" y2="805.91" stroke="#000" stroke-width="1.84"/>
<line x1="718.3" y1="798.57" x2="732.9" y2="798.57" stroke="#000" stroke-width="1.84"/>
<line x1="718.3" y1="791.22" x2="725.7" y2="791.22" stroke="#000" stroke-width="1.84"/>
<line x1="718.3" y1="783.88" x2="725.7" y2="783.88" stroke="#000" stroke-width="1.84"/>
<line x1="718.3" y1="776.53" x2="725.7" y2="776.53" stroke="#000" stroke-width="1.84"/>
<line x1="718.3" y1="769.19" x2="732.9" y2="769.19" stroke="#000" stroke-width="1.84"/>
<line x1="718.3" y1="761.84" x2="725.7" y2="761.84" stroke="#000" stroke-width="1.84"/>
<line x1="718.3" y1="754.5" x2="725.7" y2="754.5" stroke="#000" stroke-width="1.84"/>
<line x1="718.3" y1="747.15" x2="725.7" y2="747.15" stroke="#000" stroke-width="1.84"/>
<line x1="718.3" y1="739.81" x2="732.9" y2="739.81" stroke="#000" stroke-width="1.84"/>
<line x1="718.3" y1="732.46" x2="725.7" y2="732.46" stroke="#000" stroke-width="1.84"/>
<line x1="718.3" y1="725.12" x2="725.7" y2="725.12" stroke="#000" stroke-width="1.84"/>
<line x1="718.3" y1="717.77" x2="725.7" y2="717.77" stroke="#000" stroke-width="1.84"/>
<line x1="718.3" y1="710.43" x2="732.9" y2="710.43" stroke="#000" stroke-width="1.84"/>
<line x1="718.3" y1="703.08" x2="725.7" y2="703.08" stroke="#000" stroke-width="1.84"/>
<line x1="718.3" y1="695.74" x2="725.7" y2="695.74" stroke="#000" stroke-width="1.84"/>
<line x1="718.3" y1="688.39" x2="725.7" y2="688.39" stroke="#000" stroke-width="1.84"/>
<line x1="718.3" y1="681.05" x2="732.9" y2="681.05" stroke="#000" stroke-width="1.84"/>
<line x1="718.3" y1="673.7" x2="725.7" y2="673.7" stroke="#000" stroke-width="1.84"/>
<line x1="718.3" y1="666.35" x2="725.7" y2="666.35" stroke="#000" stroke-width="1.84"/>
<line x1="718.3" y1="659.01" x2="725.7" y2="659.01" stroke="#000" stroke-width="1.84"/>
<line x1="718.3" y1="651.66" x2="732.9" y2="651.66" stroke="#000" stroke-width="1.84"/>
<line x1="718.3" y1="644.32" x2="725.7" y2="644.32" stroke="#000" stroke-width="1.84"/>
<line x1="718.3" y1="636.97" x2="725.7" y2="636.97" stroke="#000" stroke-width="1.84"/>
<line x1="718.3" y1="629.63" x2="725.7" y2="629.63" stroke="#000" stroke-width="1.84"/>
<line x1="718.3" y1="622.28" x2="732.9" y2="622.28" stroke="#000" stroke-width="1.84"/>
<line x1="718.3" y1="614.94" x2="725.7" y2="614.94" stroke="#000" stroke-width="1.84"/>
<line x1="718.3" y1="607.59" x2="725.7" y2="607.59" stroke="#000" stroke-width="1.84"/>
<line x1="718.3" y1="600.25" x2="725.7" y2="600.25" stroke="#000" stroke-width="1.84"/>
<line x1="718.3" y1="592.9" x2="732.9" y2="592.9" stroke="#000" stroke-width="1.84"/>
<line x1="718.3" y1="585.56" x2="725.7" y2="585.56" stroke="#000" stroke-width="1.84"/>
<line x1="718.3" y1="578.21" x2="725.7" y2="578.21" stroke="#000" stroke-width="1.84"/>
<line x1="718.3" y1="570.87" x2="725.7" y2="570.87" stroke="#000" stroke-width="1.84"/>
<line x1="718.3" y1="563.52" x2="732.9" y2="563.52" stroke="#000" stroke-width="1.84"/>
<line x1="718.3" y1="556.18" x2="725.7" y2="556.18" stroke="#000" stroke-width="1.84"/>
<line x1="718.3" y1="548.83" x2="725.7" y2="548.83" stroke="#000" stroke-width="1.84"/>
<line x1="718.3" y1="541.49" x2="725.7" y2="541.49" stroke="#000" stroke-width="1.84"/>
<line x1="718.3" y1="534.14" x2="732.9" y2="534.14" stroke="#000" stroke-width="1.84"/>
<line x1="718.3" y1="526.8" x2="725.7" y2="526.8" stroke="#000" stroke-width="1.84"/>
<line x1="718.3" y1="519.45" x2="725.7" y2="519.45" stroke="#000" stroke-width="1.84"/>
<line x1="718.3" y1="512.1" x2="725.7" y2="512.1" stroke="#000" stroke-width="1.84"/>
<line x1="718.3" y1="504.76" x2="732.9" y2="504.76" stroke="#000" stroke-width="1.84"/>
<line x1="718.3" y1="497.41" x2="725.7" y2="497.41" stroke="#000" stroke-width="1.84"/>
<line x1="718.3" y1="490.07" x2="725.7" y2="490.07" stroke="#000" stroke-width="1.84"/>
<rect x="1144" y="474.4" width="124.3" height="66.6" fill="#f4f6f6" stroke="#000" stroke-width="1.84"/>
<line x1="1144" y1="490.1" x2="1268.3" y2="490.1" stroke="#000" stroke-width="1.84"/>
</g>
</g>
<g filter="url(#tb)">
<text x="66.1" y="400.4" font-size="13" text-anchor="middle" fill="#000">0</text>
<text x="116.1" y="400.4" font-size="13" text-anchor="middle" fill="#000">0.2</text>
<text x="166.1" y="400.4" font-size="13" text-anchor="middle" fill="#000">0.4</text>
<text x="216.1" y="400.4" font-size="13" text-anchor="middle" fill="#000">0.6</text>
<text x="266.1" y="400.4" font-size="13" text-anchor="middle" fill="#000">0.8</text>
<text x="316.1" y="400.4" font-size="13" text-anchor="middle" fill="#000">1</text>
<text x="366.1" y="400.4" font-size="13" text-anchor="middle" fill="#000">1.2</text>
<text x="416.1" y="400.4" font-size="13" text-anchor="middle" fill="#000">1.4</text>
<text x="466.1" y="400.4" font-size="13" text-anchor="middle" fill="#000">1.6</text>
<text x="516.1" y="400.4" font-size="13" text-anchor="middle" fill="#000">1.8</text>
<text x="566.1" y="400.4" font-size="13" text-anchor="middle" fill="#000">2</text>
<text x="62.6" y="389.45" font-size="13" text-anchor="end" fill="#000">0</text>
<text x="62.6" y="343.4" font-size="13" text-anchor="end" fill="#000">1</text>
<text x="62.6" y="299.2" font-size="13" text-anchor="end" fill="#000">2</text>
<text x="62.6" y="252.8" font-size="13" text-anchor="end" fill="#000">3</text>
<text x="62.6" y="206.45" font-size="13" text-anchor="end" fill="#000">4</text>
<text x="62.6" y="160.1" font-size="13" text-anchor="end" fill="#000">5</text>
<text x="62.6" y="113.9" font-size="13" text-anchor="end" fill="#000">6</text>
<text x="62.6" y="67.6" font-size="13" text-anchor="end" fill="#000">7</text>
<text x="317.2" y="26.6" font-size="20.5" text-anchor="middle" fill="#000" textLength="174" lengthAdjust="spacingAndGlyphs" stroke="#000" stroke-width="0.3">W (GeV) Run:2187</text>
<text x="551.4" y="44.3" font-size="14.5" text-anchor="middle" fill="#000">h_Wd</text>
<text x="497" y="61.9" font-size="12.7" text-anchor="start" fill="#000">Entries</text>
<text x="610.8" y="61.9" font-size="12.7" text-anchor="end" fill="#000">88</text>
<text x="497" y="79.6" font-size="12.7" text-anchor="start" fill="#000">Mean</text>
<text x="609" y="79.6" font-size="12.7" text-anchor="end" fill="#000">1.03</text>
<text x="497" y="95.6" font-size="12.7" text-anchor="start" fill="#000">Std Dev</text>
<text x="609" y="95.6" font-size="12.7" text-anchor="end" fill="#000">0.2652</text>
<text x="716.4" y="400.4" font-size="13" text-anchor="middle" fill="#000"><tspan fill="#8a8a8a">-</tspan>0.15</text>
<text x="778.95" y="400.4" font-size="13" text-anchor="middle" fill="#000"><tspan fill="#8a8a8a">-</tspan>0.1</text>
<text x="841.5" y="400.4" font-size="13" text-anchor="middle" fill="#000"><tspan fill="#8a8a8a">-</tspan>0.05</text>
<text x="905.05" y="400.4" font-size="13" text-anchor="middle" fill="#000">0</text>
<text x="966.8" y="400.4" font-size="13" text-anchor="middle" fill="#000">0.05</text>
<text x="1030.15" y="400.4" font-size="13" text-anchor="middle" fill="#000">0.1</text>
<text x="1091.9" y="400.4" font-size="13" text-anchor="middle" fill="#000">0.15</text>
<text x="1155.25" y="400.4" font-size="13" text-anchor="middle" fill="#000">0.2</text>
<text x="1217" y="400.4" font-size="13" text-anchor="middle" fill="#000">0.25</text>
<text x="714" y="389.45" font-size="13" text-anchor="end" fill="#000">0</text>
<text x="714" y="343.4" font-size="13" text-anchor="end" fill="#000">1</text>
<text x="714" y="299.2" font-size="13" text-anchor="end" fill="#000">2</text>
<text x="714" y="252.8" font-size="13" text-anchor="end" fill="#000">3</text>
<text x="714" y="206.45" font-size="13" text-anchor="end" fill="#000">4</text>
<text x="714" y="160.1" font-size="13" text-anchor="end" fill="#000">5</text>
<text x="714" y="113.9" font-size="13" text-anchor="end" fill="#000">6</text>
<text x="714" y="67.6" font-size="13" text-anchor="end" fill="#000">7</text>
<text x="967.3" y="26.4" font-size="20.5" text-anchor="middle" fill="#000" textLength="294.4" lengthAdjust="spacingAndGlyphs" stroke="#000" stroke-width="0.3">Missing Energy (GeV) Run:2187</text>
<text x="1202.85" y="44.3" font-size="14.5" text-anchor="middle" fill="#000">h_Emd</text>
<text x="1148.8" y="61.9" font-size="12.7" text-anchor="start" fill="#000">Entries</text>
<text x="1262.1" y="61.9" font-size="12.7" text-anchor="end" fill="#000">88</text>
<text x="1148.8" y="79.6" font-size="12.7" text-anchor="start" fill="#000">Mean</text>
<text x="1259.6" y="79.6" font-size="12.7" text-anchor="end" fill="#000">0.0374</text>
<text x="1148.8" y="95.6" font-size="12.7" text-anchor="start" fill="#000">Std Dev</text>
<text x="1262.1" y="95.6" font-size="12.7" text-anchor="end" fill="#000">0.02099</text>
<text x="93.13" y="841.3" font-size="13" text-anchor="middle" fill="#000">0</text>
<text x="159.89" y="841.3" font-size="13" text-anchor="middle" fill="#000">0.05</text>
<text x="228.26" y="841.3" font-size="13" text-anchor="middle" fill="#000">0.1</text>
<text x="295.03" y="841.3" font-size="13" text-anchor="middle" fill="#000">0.15</text>
<text x="363.4" y="841.3" font-size="13" text-anchor="middle" fill="#000">0.2</text>
<text x="430.16" y="841.3" font-size="13" text-anchor="middle" fill="#000">0.25</text>
<text x="498.53" y="841.3" font-size="13" text-anchor="middle" fill="#000">0.3</text>
<text x="565.3" y="841.3" font-size="13" text-anchor="middle" fill="#000">0.35</text>
<text x="62.6" y="832.55" font-size="13" text-anchor="end" fill="#000">0</text>
<text x="62.6" y="777.8" font-size="13" text-anchor="end" fill="#000">1</text>
<text x="62.6" y="724.3" font-size="13" text-anchor="end" fill="#000">2</text>
<text x="62.6" y="670.5" font-size="13" text-anchor="end" fill="#000">3</text>
<text x="62.6" y="617.4" font-size="13" text-anchor="end" fill="#000">4</text>
<text x="62.6" y="562.25" font-size="13" text-anchor="end" fill="#000">5</text>
<text x="62.6" y="508.8" font-size="13" text-anchor="end" fill="#000">6</text>
<text x="315.8" y="468.1" font-size="20.5" text-anchor="middle" fill="#000" textLength="106.5" lengthAdjust="spacingAndGlyphs" stroke="#000" stroke-width="0.3">Pm (GeV/c)</text>
<text x="551.4" y="485.8" font-size="14.5" text-anchor="middle" fill="#000">h_pmd</text>
<text x="497" y="505.1" font-size="12.7" text-anchor="start" fill="#000">Entries</text>
<text x="610.8" y="505.1" font-size="12.7" text-anchor="end" fill="#000">88</text>
<text x="497" y="521.3" font-size="12.7" text-anchor="start" fill="#000">Mean</text>
<text x="610.8" y="521.3" font-size="12.7" text-anchor="end" fill="#000">0.1279</text>
<text x="497" y="538.2" font-size="12.7" text-anchor="start" fill="#000">Std Dev</text>
<text x="610.8" y="538.2" font-size="12.7" text-anchor="end" fill="#000">0.04714</text>
<text x="716.6" y="841.3" font-size="13" text-anchor="middle" fill="#000"><tspan fill="#8a8a8a">-</tspan>10</text>
<text x="766.64" y="841.3" font-size="13" text-anchor="middle" fill="#000"><tspan fill="#8a8a8a">-</tspan>8</text>
<text x="816.68" y="841.3" font-size="13" text-anchor="middle" fill="#000"><tspan fill="#8a8a8a">-</tspan>6</text>
<text x="866.72" y="841.3" font-size="13" text-anchor="middle" fill="#000"><tspan fill="#8a8a8a">-</tspan>4</text>
<text x="916.76" y="841.3" font-size="13" text-anchor="middle" fill="#000"><tspan fill="#8a8a8a">-</tspan>2</text>
<text x="967.6" y="841.3" font-size="13" text-anchor="middle" fill="#000">0</text>
<text x="1017.64" y="841.3" font-size="13" text-anchor="middle" fill="#000">2</text>
<text x="1067.68" y="841.3" font-size="13" text-anchor="middle" fill="#000">4</text>
<text x="1117.72" y="841.3" font-size="13" text-anchor="middle" fill="#000">6</text>
<text x="1167.76" y="841.3" font-size="13" text-anchor="middle" fill="#000">8</text>
<text x="1217.8" y="841.3" font-size="13" text-anchor="middle" fill="#000">10</text>
<text x="714" y="832.55" font-size="13" text-anchor="end" fill="#000">0</text>
<text x="714" y="803.12" font-size="13" text-anchor="end" fill="#000">2</text>
<text x="714" y="773.69" font-size="13" text-anchor="end" fill="#000">4</text>
<text x="714" y="744.25" font-size="13" text-anchor="end" fill="#000">6</text>
<text x="714" y="714.82" font-size="13" text-anchor="end" fill="#000">8</text>
<text x="714" y="685.39" font-size="13" text-anchor="end" fill="#000">10</text>
<text x="714" y="655.96" font-size="13" text-anchor="end" fill="#000">12</text>
<text x="714" y="626.53" font-size="13" text-anchor="end" fill="#000">14</text>
<text x="714" y="597.1" font-size="13" text-anchor="end" fill="#000">16</text>
<text x="714" y="567.66" font-size="13" text-anchor="end" fill="#000">18</text>
<text x="714" y="538.23" font-size="13" text-anchor="end" fill="#000">20</text>
<text x="714" y="508.8" font-size="13" text-anchor="end" fill="#000">22</text>
<text x="967.3" y="468.1" font-size="19.8" text-anchor="middle" fill="#000" textLength="289.2" lengthAdjust="spacingAndGlyphs" stroke="#000" stroke-width="0.3">SHMS ROC1 Corrected Coin Time</text>
<text x="1217.6" y="855.6" font-size="13" text-anchor="end" fill="#000" textLength="72.8" lengthAdjust="spacingAndGlyphs">cointime [ns]</text>
<text x="1204.35" y="483.9" font-size="7" text-anchor="middle" fill="#333" textLength="116.2" lengthAdjust="spacingAndGlyphs">SHMS ROC1 Corrected Coin Time</text>
<text x="1148.8" y="505.1" font-size="12.7" text-anchor="start" fill="#000">Entries</text>
<text x="1262.7" y="505.1" font-size="12.7" text-anchor="end" fill="#000">131</text>
<text x="1148.8" y="521.3" font-size="12.7" text-anchor="start" fill="#000">Mean</text>
<text x="1260.2" y="521.3" font-size="12.7" text-anchor="end" fill="#000">0.1248</text>
<text x="1148.8" y="538.2" font-size="12.7" text-anchor="start" fill="#000">Std Dev</text>
<text x="1262.7" y="538.2" font-size="12.7" text-anchor="end" fill="#000">0.401</text>
</g>
</svg>
</body>
</html>
